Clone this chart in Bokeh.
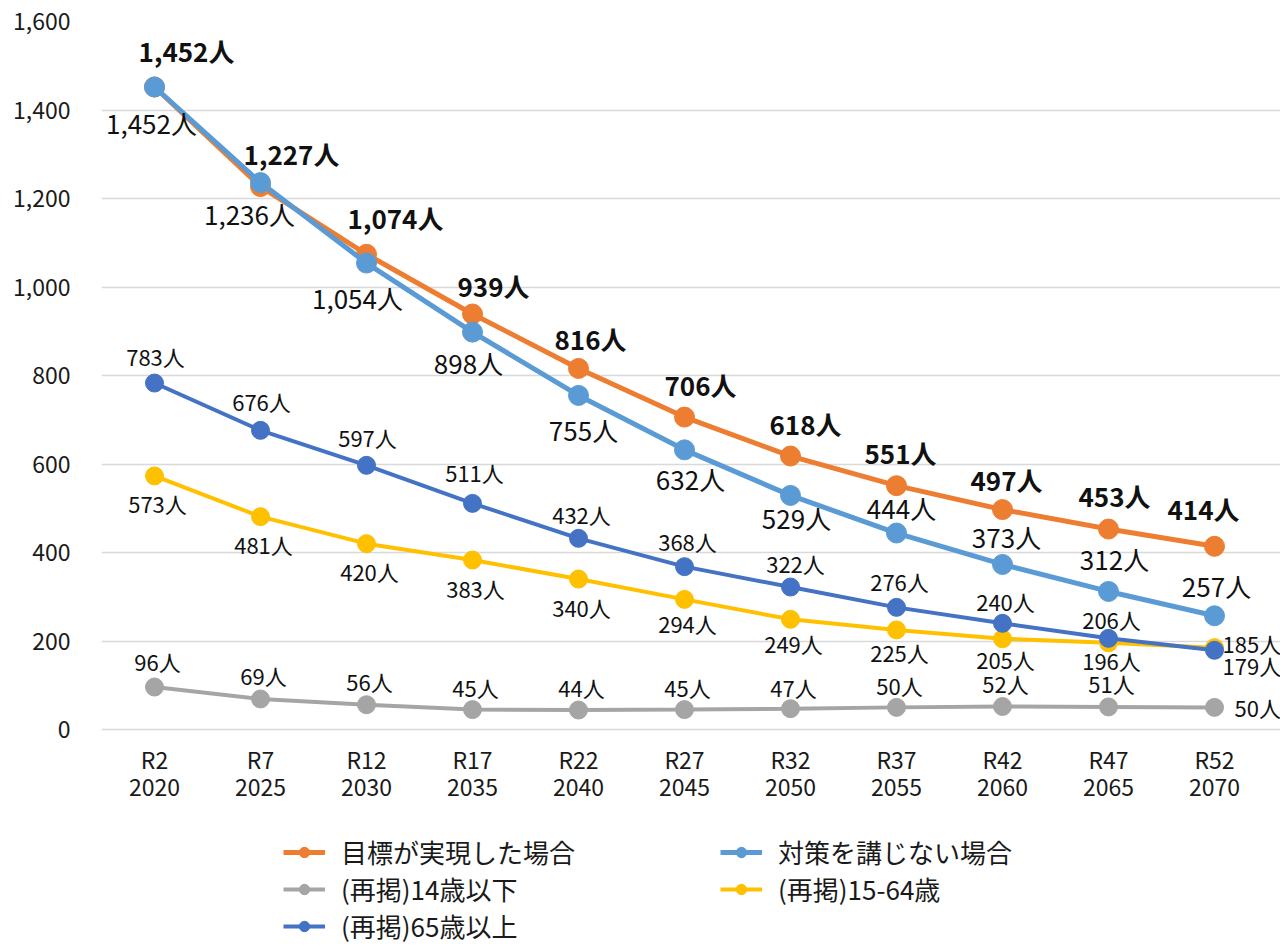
from bokeh.plotting import figure
from bokeh.models import ColumnDataSource, Range1d, NumeralTickFormatter, Legend, LegendItem, FixedTicker
from bokeh.core.properties import value
from bokeh.embed import file_html
from bokeh.resources import INLINE

categories = ["R2\n2020", "R7\n2025", "R12\n2030", "R17\n2035", "R22\n2040", "R27\n2045",
              "R32\n2050", "R37\n2055", "R42\n2060", "R47\n2065", "R52\n2070"]
target = [1452, 1227, 1074, 939, 816, 706, 618, 551, 497, 453, 414]
no_measures = [1452, 1236, 1054, 898, 755, 632, 529, 444, 373, 312, 257]
age_0_14 = [96, 69, 56, 45, 44, 45, 47, 50, 52, 51, 50]
age_15_64 = [573, 481, 420, 383, 340, 294, 249, 225, 205, 196, 185]
age_65_plus = [783, 676, 597, 511, 432, 368, 322, 276, 240, 206, 179]
series_names = ["目標が実現した場合", "対策を講じない場合", "(再掲)14歳以下", "(再掲)15-64歳", "(再掲)65歳以上"]
y_ticks = [0, 200, 400, 600, 800, 1000, 1200, 1400, 1600]

FONT = "Noto Sans CJK JP"

# label placement (screen px offsets), kept separate from data
lab_target = dict(dx=[32, 31, 29, 21, 12, 16, 15, 4, 4, 6, -11],
                  dy=[-36, -33, -37, -28, -30, -33, -33, -33, -30, -34, -38], align=["center"] * 11)
lab_nomeas = dict(dx=[-3, -11, -9, -4, 5, 6, 6, 5, 4, 6, 2],
                  dy=[36, 31, 34, 30, 34, 29, 22, -26, -28, -33, -30], align=["center"] * 11)
lab_014 = dict(dx=[3] * 10 + [20], dy=[-26, -24, -24, -23, -23, -23, -22, -22, -23, -24, 0],
               align=["center"] * 10 + ["left"])
lab_1564 = dict(dx=[3] * 10 + [8], dy=[27, 27, 27, 28, 28, 24, 24, 22, 20, 17, -5],
                align=["center"] * 10 + ["left"])
lab_65 = dict(dx=[1, 1, 1, 2, 3, 3, 5, 3, 3, 3, 8], dy=[-27, -29, -28, -31, -24, -26, -24, -26, -22, -19, 15],
              align=["center"] * 10 + ["left"])

# layout geometry (pixels)
W, H = 1280, 944
LEFT, TOP = 101, 21
STEP = 106.0          # px per category
ZERO_PX = 729         # screen row of value 0
PX_PER_UNIT = (ZERO_PX - TOP) / 1600.0
x_end = -0.5 + (W - LEFT) / STEP
y_start = -(H - ZERO_PX) / PX_PER_UNIT

xs = list(range(len(categories)))

p = figure(width=W, height=H, x_range=Range1d(-0.5, x_end), y_range=Range1d(y_start, 1600),
           output_backend="svg", toolbar_location=None,
           min_border_left=LEFT, min_border_right=0, min_border_top=TOP, min_border_bottom=0)
p.outline_line_color = None
p.background_fill_color = "white"
p.border_fill_color = "white"

p.xgrid.grid_line_color = None
p.ygrid.grid_line_color = "#D9D9D9"
p.ygrid.grid_line_width = 1.3

p.yaxis.ticker = FixedTicker(ticks=y_ticks)
p.yaxis.formatter = NumeralTickFormatter(format="0,0")
p.xaxis.ticker = FixedTicker(ticks=xs)
p.xaxis.major_label_overrides = {i: c for i, c in zip(xs, categories)}
p.xaxis.fixed_location = 0
for ax in (p.xaxis, p.yaxis):
    ax.axis_line_color = None
    ax.major_tick_line_color = None
    ax.minor_tick_line_color = None
    ax.major_tick_out = 0
    ax.major_tick_in = 0
    ax.major_label_text_font = FONT
    ax.major_label_text_font_size = "23px"
    ax.major_label_text_color = "#1a1a1a"
p.xaxis.major_label_text_line_height = 0.8
p.yaxis.major_label_standoff = 31
p.xaxis.major_label_standoff = 12

series = [
    (target, "#ED7D31", 5, 20, lab_target, "bold", "26px"),
    (no_measures, "#5B9BD5", 5, 20, lab_nomeas, "normal", "26px"),
    (age_0_14, "#A5A5A5", 4, 18, lab_014, "normal", "22px"),
    (age_15_64, "#FFC000", 4, 18, lab_1564, "normal", "22px"),
    (age_65_plus, "#4472C4", 4, 18, lab_65, "normal", "22px"),
]

legend_items = []
for (vals, color, lw, ms, lab, weight, fsize), name in zip(series, series_names):
    src = ColumnDataSource(dict(x=xs, y=vals, txt=[f"{v:,}人" for v in vals],
                                dx=lab["dx"], dy=lab["dy"], align=lab["align"]))
    r_line = p.line("x", "y", source=src, line_color=color, line_width=lw)
    r_pt = p.scatter("x", "y", source=src, size=ms, marker="circle", fill_color=color, line_color=color)
    legend_items.append(LegendItem(label=name, renderers=[r_line, r_pt]))
    p.text("x", "y", text="txt", source=src, x_offset="dx", y_offset="dy", text_align="align",
           text_baseline="middle", text_font=value(FONT), text_font_size=fsize,
           text_font_style=weight, text_color="#111111")

order = [0, 2, 4, 1, 3]
legend = Legend(items=[legend_items[i] for i in order], ncols=2, location=(182, 0),
                orientation="vertical")
legend.label_text_font = FONT
legend.label_text_font_size = "26px"
legend.label_text_color = "#1a1a1a"
legend.glyph_width = 42
legend.glyph_height = 26
legend.label_height = 26
legend.label_width = 379
legend.label_standoff = 16
legend.spacing = 0
legend.padding = 0
legend.margin = 0
legend.border_line_color = None
legend.background_fill_alpha = 0
p.add_layout(legend, "center")

open("out.html", "w").write(file_html(p, INLINE))
